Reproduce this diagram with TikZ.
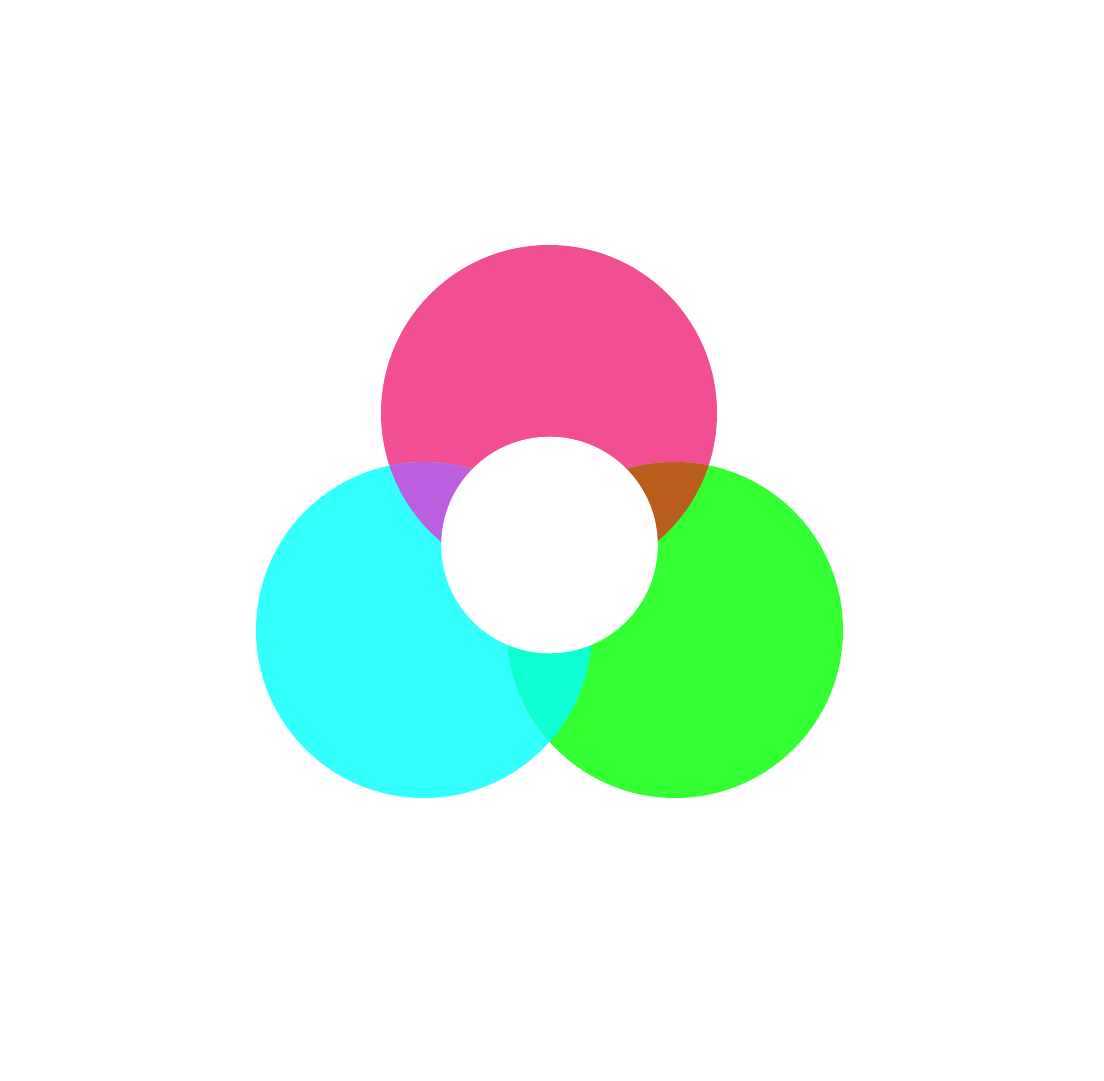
\documentclass[tikz,border=0pt]{standalone}
\definecolor{cpink}{HTML}{F14E94}
\definecolor{ccyan}{HTML}{33FFFF}
\definecolor{cgreen}{HTML}{33FF33}
\definecolor{cpurple}{HTML}{BB5FE0}
\definecolor{cbrown}{HTML}{BA5E1E}
\definecolor{cteal}{HTML}{0FFFD5}
\begin{document}
\begin{tikzpicture}[x=1pt,y=-1pt]
\useasboundingbox[fill=white] (0,0) rectangle (1104,1080);
\coordinate (top) at (549,413);
\coordinate (left) at (424,630);
\coordinate (right) at (675,630);
\coordinate (mid) at (549.5,545);
\def\R{168}
\fill[cpink] (top) circle[radius=\R];
\fill[ccyan] (left) circle[radius=\R];
\fill[cgreen] (right) circle[radius=\R];
\begin{scope}
  \clip (top) circle[radius=\R];
  \fill[cpurple] (left) circle[radius=\R];
\end{scope}
\begin{scope}
  \clip (top) circle[radius=\R];
  \fill[cbrown] (right) circle[radius=\R];
\end{scope}
\begin{scope}
  \clip (left) circle[radius=\R];
  \fill[cteal] (right) circle[radius=\R];
\end{scope}
\fill[white] (mid) circle[radius=108.3];
\end{tikzpicture}
\end{document}
